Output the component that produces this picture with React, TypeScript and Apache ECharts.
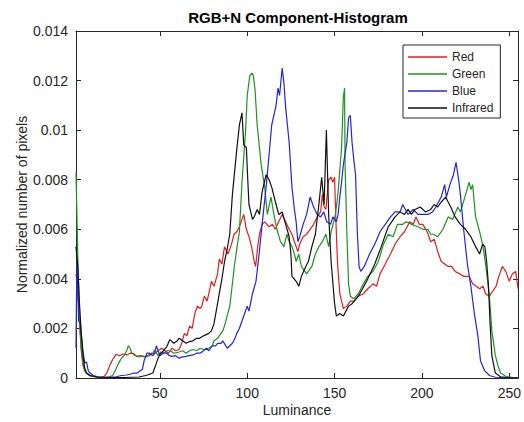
import React, { useEffect, useRef } from "react";
import * as echarts from "echarts";

const title = "RGB+N Component-Histogram";
const seriesNames = ["Red", "Green", "Blue", "Infrared"];
const seriesColors = ["#e01e1e", "#1f931f", "#2424dc", "#111111"];
const xTicks = [50, 100, 150, 200, 250];

// [luminance, normalized number of pixels]
const redData: [number, number][] = [
  [2,0.0042],[3,0.0036],[4,0.0022],[5,0.0011],[6,0.0005],[7,0.0003],[8,0.0002],[10,0.0001],[13,0.00005],[16,0.00004],[18,0.00006],[19.6,0.0002],[21.6,0.00055],[23,0.00075],[25,0.00095],[27,0.0009],[29,0.00097],[31,0.00093],[33,0.001],[35,0.00098],[37,0.00087],[39,0.0009],[41,0.00085],[43,0.0009],[45,0.001],[47,0.00098],[49,0.0011],[51,0.0012],[53,0.0011],[55,0.001],[57,0.0012],[59,0.0011],[61,0.00115],[62.5,0.0014],[64,0.0018],[65.5,0.0017],[67,0.0021],[68.5,0.002],[70,0.0026],[71.5,0.0029],[73,0.0028],[74,0.0029],[75.5,0.0033],[77,0.0031],[78,0.0034],[79.5,0.0039],[81,0.0037],[83,0.0042],[84,0.0048],[85.5,0.0046],[87,0.0053],[89,0.005],[91,0.0054],[92.5,0.0058],[94,0.0059],[95.5,0.0061],[97,0.0064],[98,0.0066],[99.5,0.006],[101,0.0057],[102.5,0.0053],[104,0.0047],[104.8,0.0045],[106,0.0053],[107,0.0058],[108.5,0.0062],[110,0.0063],[112.5,0.0061],[114.5,0.0062],[116,0.006],[118,0.0063],[120,0.0066],[122,0.0063],[124,0.006],[125.6,0.0058],[127,0.0055],[128,0.0053],[129,0.0051],[130,0.0054],[132,0.0057],[134,0.0058],[136,0.006],[138,0.0062],[140,0.0065],[142,0.0067],[143,0.0074],[144,0.0069],[145,0.0068],[146.6,0.008],[148,0.0081],[149,0.0079],[150,0.0081],[150.6,0.0066],[151.7,0.0046],[153,0.0034],[155,0.0028],[157,0.0029],[159,0.0031],[161,0.0031],[163.6,0.0033],[166.5,0.0034],[169,0.0036],[172,0.0038],[174,0.0037],[176,0.0042],[179,0.0046],[182,0.005],[184.6,0.0054],[187.5,0.0057],[190,0.0059],[193,0.0063],[195,0.0062],[196.6,0.0065],[198.5,0.0062],[200.5,0.0062],[203,0.0059],[205,0.0055],[207,0.0056],[209,0.0051],[211,0.0047],[213,0.0046],[215,0.0045],[217,0.0045],[219,0.0043],[221.6,0.0042],[224,0.0041],[227,0.0041],[229,0.0038],[231,0.0037],[233,0.0036],[235,0.0037],[236.4,0.0034],[238.6,0.0033],[240.5,0.0035],[242.4,0.0037],[244,0.0041],[246,0.0045],[248,0.0043],[250,0.0039],[251.7,0.0042],[253.6,0.0043],[255,0.0036]
];

const greenData: [number, number][] = [
  [2,0.0083],[3,0.005],[4,0.0025],[5,0.0012],[6,0.0006],[7,0.0003],[8,0.0002],[10,0.00008],[14,0.00003],[18,0.00002],[21,0.00005],[23,0.0001],[24.5,0.0003],[26,0.00055],[28,0.0008],[29.5,0.0009],[31,0.0011],[32,0.0013],[33,0.0012],[34,0.001],[36,0.0009],[38,0.00085],[40,0.0009],[42,0.00085],[44,0.0009],[46,0.001],[47,0.00113],[49,0.0009],[50.5,0.00105],[52,0.001],[54,0.0011],[56,0.0011],[58,0.001],[61,0.00105],[63,0.0011],[65,0.001],[67,0.0011],[69,0.00115],[71,0.0011],[73,0.0012],[75,0.00115],[78,0.0012],[80,0.0013],[81,0.0015],[83,0.0016],[84,0.0017],[86,0.0019],[87,0.0021],[88.5,0.0025],[90,0.0029],[91,0.0035],[92.6,0.0045],[94,0.0052],[95.5,0.0059],[97,0.0079],[99,0.0099],[100,0.0114],[101.5,0.0122],[102.7,0.0123],[103.5,0.0122],[104.5,0.0116],[105.7,0.0102],[107,0.0093],[108,0.0086],[110,0.0077],[111.5,0.0066],[113.6,0.0073],[115,0.0067],[117,0.006],[119,0.0055],[121,0.0053],[122.7,0.0058],[124,0.0055],[125.6,0.0053],[127,0.005],[128,0.0047],[129.5,0.005],[131,0.0045],[134,0.0042],[137,0.0045],[139,0.005],[141,0.0053],[143,0.0055],[145,0.0058],[146.6,0.0053],[148,0.0059],[150.5,0.0066],[152,0.0075],[154,0.0093],[155,0.0113],[155.7,0.0117],[156,0.0086],[157,0.0059],[158,0.0038],[159,0.0033],[161,0.0032],[163.6,0.0034],[166.5,0.0038],[169,0.0041],[172,0.0043],[175,0.0047],[178,0.0054],[180.7,0.0058],[183.5,0.0057],[186,0.0062],[189,0.0062],[191,0.0063],[194,0.0062],[197.7,0.0061],[200.6,0.006],[203.4,0.006],[205,0.0058],[206.5,0.0058],[209,0.0057],[212,0.006],[215,0.0065],[217.6,0.0064],[220.5,0.0069],[222,0.0067],[225,0.0074],[227,0.0079],[228,0.0076],[229,0.0078],[230.7,0.0065],[233,0.0059],[234.7,0.0054],[236.4,0.0046],[238.6,0.0033],[240,0.0019],[242,0.0009],[243.5,0.0005],[245,0.0002],[248,0.00007],[252,0.00002],[255,0.00001]
];

const blueData: [number, number][] = [
  [2,0.0012],[2.5,0.0048],[3,0.0035],[3.5,0.0023],[4.5,0.0022],[5,0.0018],[6,0.0011],[7,0.0006],[8,0.00065],[9,0.0003],[10,0.0002],[12,0.0001],[15,0.00004],[20,0.00003],[25,0.00005],[28,0.0001],[31,0.00012],[33,0.00015],[35,0.0002],[37,0.0002],[39,0.0003],[40,0.00035],[41,0.0007],[42.6,0.001],[44,0.001],[46,0.0009],[47,0.001],[48,0.0013],[49,0.0011],[50,0.0009],[52,0.001],[54,0.001],[55.5,0.0009],[57,0.00087],[59,0.0009],[61,0.0008],[63,0.00085],[65,0.00087],[67,0.0009],[69,0.00093],[71,0.001],[73,0.001],[75,0.0011],[76.7,0.0012],[78,0.0011],[80,0.0013],[82,0.0013],[83,0.0014],[85,0.0014],[86,0.0015],[88.6,0.0012],[90,0.0013],[91.5,0.0014],[93,0.0016],[94,0.0018],[95.5,0.002],[97,0.0023],[98.5,0.0026],[100,0.0029],[101,0.0027],[103,0.0034],[105,0.0039],[106.8,0.005],[108.5,0.0062],[110.8,0.0077],[112.5,0.009],[114,0.0102],[116.5,0.011],[117.6,0.0117],[118.5,0.0114],[120,0.0125],[121,0.0119],[122,0.0109],[124,0.0095],[125.6,0.0077],[127,0.0068],[128,0.0063],[129,0.0055],[130,0.0057],[132,0.0062],[134,0.0066],[136,0.0073],[138,0.0069],[140,0.0066],[142,0.0065],[143.8,0.0067],[145.5,0.0063],[147.7,0.0062],[149,0.0065],[151,0.0063],[152,0.0066],[153,0.0073],[154,0.0079],[155,0.0086],[157,0.0095],[158,0.0105],[159,0.0106],[160,0.0095],[161,0.0088],[162,0.0082],[163,0.0059],[164,0.0045],[165,0.0043],[167,0.0045],[170,0.005],[173,0.0054],[176,0.0059],[179,0.0062],[182,0.0065],[184.6,0.0067],[187.5,0.0067],[189,0.007],[192,0.0066],[195,0.0068],[197.7,0.0066],[200.6,0.0066],[203.4,0.0066],[206,0.0067],[208,0.0069],[211,0.0073],[213,0.0078],[214,0.0073],[216,0.0078],[218,0.0082],[219.5,0.0087],[221,0.008],[222,0.0074],[224,0.0059],[226,0.0046],[228,0.0037],[230,0.0026],[232,0.0017],[233.5,0.0007],[235.8,0.0003],[238.6,0.0001],[242,0.00003],[248,0.00001],[255,0]
];

const infraredData: [number, number][] = [
  [2,0.0053],[3,0.0045],[4,0.003],[5,0.0018],[6,0.0009],[7,0.0004],[8,0.0002],[10,0.0001],[14,0.00004],[20,0.00002],[30,0.00002],[38,0.00004],[42,0.0001],[44,0.00015],[46,0.0002],[47.5,0.0005],[49,0.0008],[50,0.00095],[52,0.0011],[54,0.00127],[55.7,0.00155],[58,0.0014],[60,0.0015],[61,0.0016],[63,0.0015],[65,0.0014],[67,0.00147],[69,0.0015],[71,0.0016],[72.7,0.0016],[75,0.0017],[78,0.0018],[79.5,0.0019],[81,0.0022],[82.5,0.0028],[84,0.0034],[85.5,0.004],[87,0.0047],[88.5,0.0052],[90,0.0058],[91.5,0.0074],[93.7,0.009],[95.5,0.0102],[97,0.0107],[98,0.0094],[99.5,0.0093],[100.3,0.008],[101,0.007],[102,0.0067],[103,0.0064],[104,0.0065],[105.7,0.0068],[107,0.0066],[108.5,0.0075],[110.8,0.0082],[112.5,0.008],[114,0.0077],[116.5,0.007],[118,0.0066],[120,0.0067],[122,0.0062],[124,0.0057],[125,0.005],[125.6,0.0041],[128,0.0039],[129.5,0.0037],[131,0.0041],[133.5,0.0045],[135,0.0047],[137,0.0053],[139,0.0058],[141,0.007],[142.6,0.0081],[144,0.007],[145.3,0.01],[146.6,0.0066],[148,0.0047],[150,0.003],[151,0.0025],[153,0.0026],[155,0.0025],[158,0.0029],[160,0.003],[163.6,0.0033],[166,0.0036],[169,0.004],[173,0.0046],[176.7,0.0053],[180.7,0.0061],[184.6,0.0065],[187.5,0.0067],[190,0.0066],[192,0.0068],[194,0.0066],[196,0.0068],[199,0.0069],[202,0.0067],[205,0.0068],[207,0.007],[209,0.0069],[211,0.0071],[213.6,0.0073],[215,0.0071],[216.5,0.0069],[219,0.0065],[222,0.0062],[225,0.006],[228,0.0057],[230.7,0.0053],[233,0.005],[234.7,0.0054],[236,0.0053],[237,0.0047],[238,0.0038],[239,0.0022],[240,0.0009],[242,0.0002],[245,0.00005],[250,0.00001],[255,0]
];

const allData = [redData, greenData, blueData, infraredData];

const FONT = "'Liberation Sans', Arial, Helvetica, sans-serif";
const AXIS_COLOR = "#262626";

export default function App() {
  const ref = useRef<HTMLDivElement>(null);

  useEffect(() => {
    if (!ref.current) return;
    const chart = echarts.init(ref.current, undefined, { renderer: "svg" });
    const axisLine = { show: true, onZero: false, lineStyle: { color: AXIS_COLOR, width: 1 } };
    chart.setOption({
      animation: false,
      backgroundColor: "#ffffff",
      textStyle: { fontFamily: FONT },
      title: {
        text: title,
        left: 298,
        top: 10,
        padding: 0,
        textAlign: "center",
        textStyle: { fontFamily: FONT, fontSize: 15, fontWeight: "bold", color: "#000" },
      },
      legend: {
        orient: "vertical",
        left: 403,
        top: 45,
        padding: [5, 7, 3, 5],
        icon: "rect",
        itemWidth: 39,
        itemHeight: 1.5,
        itemGap: 3,
        backgroundColor: "#ffffff",
        borderColor: "#262626",
        borderWidth: 1,
        borderRadius: 0,
        textStyle: { fontFamily: FONT, fontSize: 12, color: AXIS_COLOR, lineHeight: 14 },
        data: seriesNames,
      },
      grid: { left: 76, right: 3, top: 31, bottom: 40, containLabel: false },
      xAxis: [
        {
          type: "value",
          min: 2,
          max: 255,
          position: "bottom",
          name: "Luminance",
          nameLocation: "middle",
          nameGap: 25,
          nameMoveOverlap: false,
          nameTextStyle: { fontFamily: FONT, fontSize: 14, color: AXIS_COLOR },
          axisLine,
          axisTick: { show: true, inside: true, length: 5, customValues: xTicks, lineStyle: { color: AXIS_COLOR } },
          axisLabel: { show: true, customValues: xTicks, margin: 8, fontFamily: FONT, fontSize: 14, color: AXIS_COLOR },
          splitLine: { show: false },
        },
        {
          type: "value",
          min: 2,
          max: 255,
          position: "top",
          axisLine,
          axisTick: { show: true, inside: true, length: 5, customValues: xTicks, lineStyle: { color: AXIS_COLOR } },
          axisLabel: { show: false },
          splitLine: { show: false },
        },
      ],
      yAxis: [
        {
          type: "value",
          min: 0,
          max: 0.014,
          interval: 0.002,
          position: "left",
          name: "Normalized number of pixels",
          nameLocation: "middle",
          nameGap: 47,
          nameMoveOverlap: false,
          nameTextStyle: { fontFamily: FONT, fontSize: 14, color: AXIS_COLOR },
          axisLine,
          axisTick: { show: true, inside: true, length: 5, lineStyle: { color: AXIS_COLOR } },
          axisLabel: { margin: 8, fontFamily: FONT, fontSize: 14, color: AXIS_COLOR },
          splitLine: { show: false },
        },
        {
          type: "value",
          min: 0,
          max: 0.014,
          interval: 0.002,
          position: "right",
          axisLine,
          axisTick: { show: true, inside: true, length: 5, lineStyle: { color: AXIS_COLOR } },
          axisLabel: { show: false },
          splitLine: { show: false },
        },
      ],
      series: seriesNames.map((name, i) => ({
        name,
        type: "line",
        xAxisIndex: 0,
        yAxisIndex: 0,
        data: allData[i],
        symbol: "none",
        showSymbol: false,
        smooth: false,
        lineStyle: { color: seriesColors[i], width: 1.2 },
        itemStyle: { color: seriesColors[i] },
        emphasis: { disabled: true },
      })),
    });
    return () => chart.dispose();
  }, []);

  return (
    <div
      ref={ref}
      style={{ position: "fixed", left: 0, top: 0, width: 524, height: 422, background: "#fff" }}
    />
  );
}
